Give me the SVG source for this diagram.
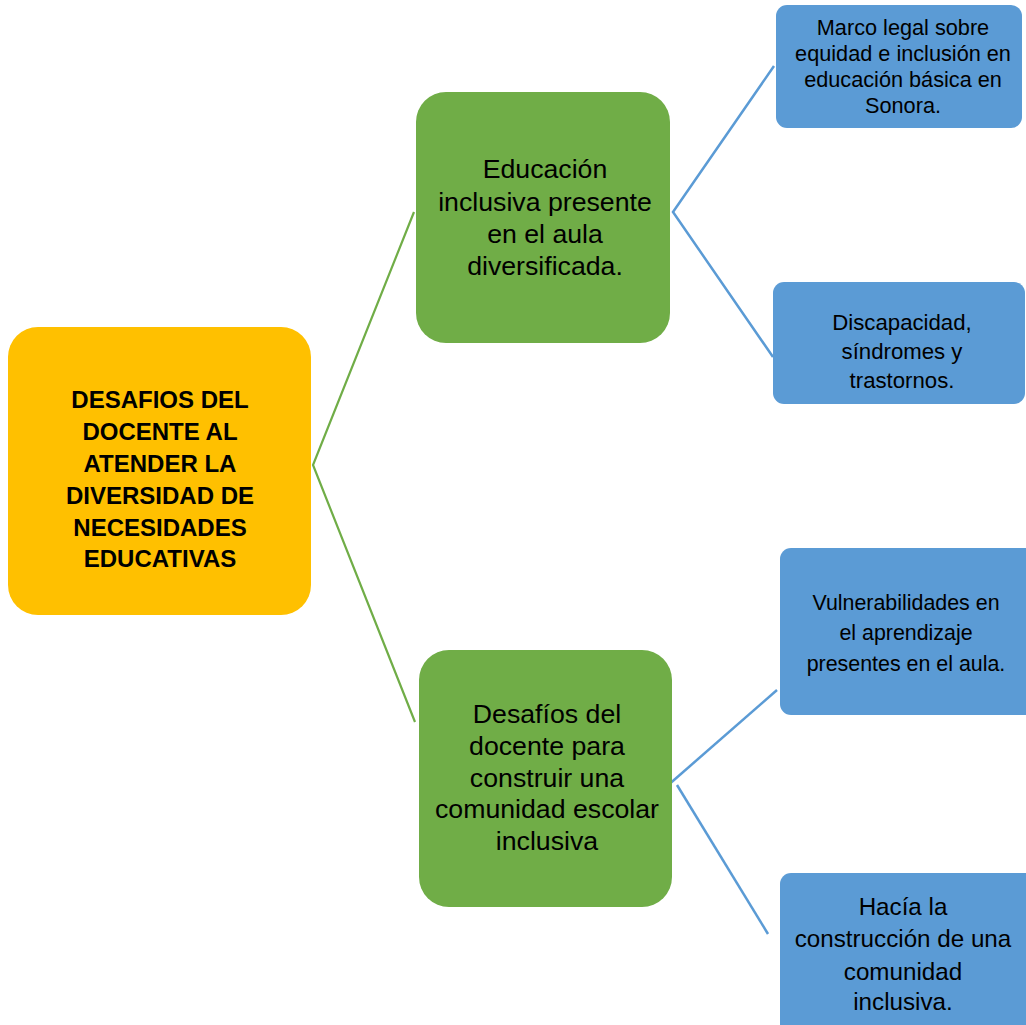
<svg xmlns="http://www.w3.org/2000/svg" width="1026" height="1025" viewBox="0 0 1026 1025">
<style>
text{font-family:"Liberation Sans",Arial,sans-serif;fill:#000;text-anchor:middle}
.y{fill:#FFC000}
.g{fill:#70AD47}
.b{fill:#5B9BD5}
.gl{stroke:#70AD47;stroke-width:2.2;fill:none}
.bl{stroke:#5B9BD5;stroke-width:2.5;fill:none}
.t0{font-weight:bold;font-size:24px}
.t1{font-size:26.7px}
</style>
<rect width="1026" height="1025" fill="#fff"/>
<g id="connectors">
<polyline class="gl" points="414,212 313,465 415,722"/>
<polyline class="bl" points="774,66 673,212 773,357"/>
<line class="bl" x1="666" y1="787" x2="777" y2="690"/>
<line class="bl" x1="677" y1="785" x2="768" y2="934"/>
</g>
<g id="root">
<rect class="y" x="8" y="327" width="303" height="288" rx="30"/>
<text class="t0" x="160" y="408">DESAFIOS DEL</text>
<text class="t0" x="160" y="440">DOCENTE AL</text>
<text class="t0" x="160" y="472">ATENDER LA</text>
<text class="t0" x="160" y="504">DIVERSIDAD DE</text>
<text class="t0" x="160" y="536">NECESIDADES</text>
<text class="t0" x="160" y="567">EDUCATIVAS</text>
</g>
<g id="n1">
<rect class="g" x="416" y="92" width="254" height="251" rx="30"/>
<text class="t1" x="545" y="178">Educación</text>
<text class="t1" x="545" y="211">inclusiva presente</text>
<text class="t1" x="545" y="243">en el aula</text>
<text class="t1" x="545" y="275">diversificada.</text>
</g>
<g id="n2">
<rect class="g" x="419" y="650" width="253" height="257" rx="30"/>
<text class="t1" x="547" y="723">Desafíos del</text>
<text class="t1" x="547" y="755">docente para</text>
<text class="t1" x="547" y="787">construir una</text>
<text class="t1" x="547" y="818">comunidad escolar</text>
<text class="t1" x="547" y="850">inclusiva</text>
</g>
<g id="n1a">
<rect class="b" x="776" y="5" width="246" height="123" rx="11"/>
<text font-size="21.7" x="903" y="35">Marco legal sobre</text>
<text font-size="21.7" x="903" y="61">equidad e inclusión en</text>
<text font-size="21.7" x="903" y="87">educación básica en</text>
<text font-size="21.7" x="903" y="113">Sonora.</text>
</g>
<g id="n1b">
<rect class="b" x="773" y="282" width="252" height="122" rx="11"/>
<text font-size="22.2" x="902" y="330">Discapacidad,</text>
<text font-size="22.2" x="902" y="359">síndromes y</text>
<text font-size="22.2" x="902" y="388">trastornos.</text>
</g>
<g id="n2a">
<rect class="b" x="780" y="548" width="256" height="167" rx="11"/>
<text font-size="21.4" x="906" y="610">Vulnerabilidades en</text>
<text font-size="21.4" x="906" y="640">el aprendizaje</text>
<text font-size="21.4" x="906" y="671">presentes en el aula.</text>
</g>
<g id="n2b">
<rect class="b" x="780" y="873" width="256" height="162" rx="11"/>
<text font-size="24.2" x="903" y="915">Hacía la</text>
<text font-size="24.2" x="903" y="947">construcción de una</text>
<text font-size="24.2" x="903" y="980">comunidad</text>
<text font-size="24.2" x="903" y="1010">inclusiva.</text>
</g>
</svg>
